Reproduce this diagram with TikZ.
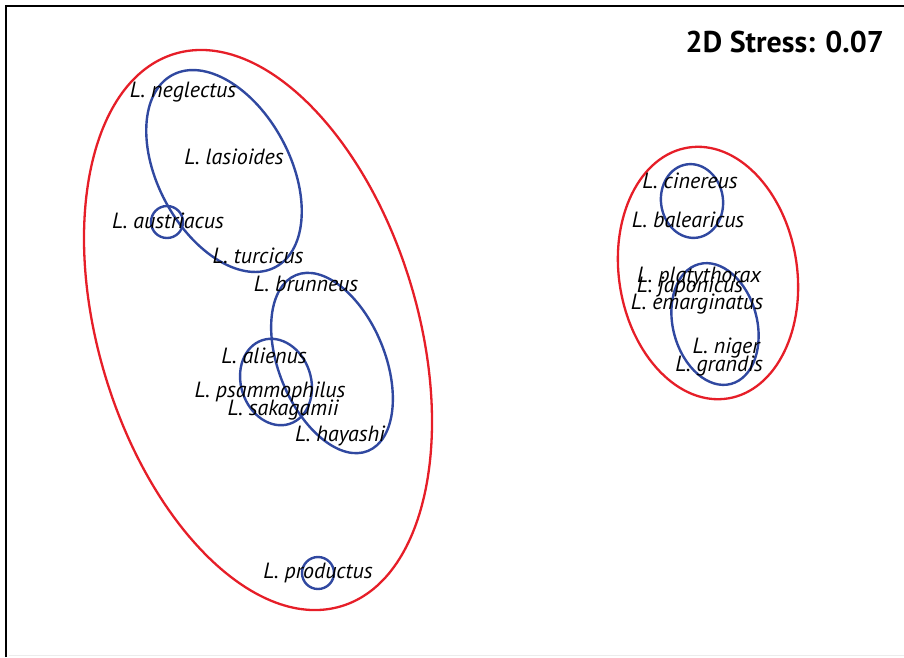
\documentclass[tikz,border=0pt]{standalone}
\usepackage{fontspec}
\setmainfont{PT Sans}
\begin{document}
\begin{tikzpicture}[x=1pt,y=-1pt]
\definecolor{grpred}{RGB}{230,30,40}
\definecolor{grpblue}{RGB}{48,72,160}
\tikzset{
  redgrp/.style={draw=grpred,line width=2.3pt},
  bluegrp/.style={draw=grpblue,line width=2.4pt},
  sp/.style={inner sep=0pt,font=\fontsize{22}{22}\selectfont\itshape},
}
\useasboundingbox (0,0) rectangle (904,657);
% frame
\draw[line width=2.6pt] (6,657) -- (6,6) -- (904,6);
\draw[gray!15,line width=0.8pt] (9,655.5) -- (904,655.5);
% red groups
\draw[redgrp,rotate around={16.8:(258,330)}] (258,330) ellipse (159.5 and 288.5);
\draw[redgrp,rotate around={9:(708,273)}] (708,273) ellipse (89 and 127);
% blue groups
\draw[bluegrp,rotate around={28.3:(224,171)}] (224,171) ellipse (66 and 109);
\draw[bluegrp] (167,222) circle (16);
\draw[bluegrp,rotate around={22.3:(332,363)}] (332,363) ellipse (53 and 95);
\draw[bluegrp,rotate around={18:(276,382)}] (276,382) ellipse (35 and 44);
\draw[bluegrp] (318,573) circle (16);
\draw[bluegrp,rotate around={8:(692,201)}] (692,201) ellipse (31 and 37);
\draw[bluegrp,rotate around={15:(715,324)}] (715,324) ellipse (42 and 62);
% labels
\node[sp] (neg) at (183,92) {L. neglectus};
\node[sp] (las) at (234,157) {L. lasioides};
\node[sp] (aus) at (168,221) {L. austriacus};
\node[sp] (tur) at (258,256) {L. turcicus};
\node[sp] (bru) at (306,284) {L. brunneus};
\node[sp] (ali) at (264,356) {L. alienus};
\node[sp] (psa) at (270,392) {L. psammophilus};
\node[sp] (sak) at (283,410) {L. sakagamii};
\node[sp] (hay) at (340,436) {L. hayashi};
\node[sp] (pro) at (318,573) {L. productus};
\node[sp] (cin) at (690,181) {L. cinereus};
\node[sp] (bal) at (688,220) {L. balearicus};
\node[sp] (pla) at (699,277) {L. platythorax};
\node[sp] (jap) at (690,287) {L. japonicus};
\node[sp] (ema) at (697,304) {L. emarginatus};
\node[sp] (nig) at (726,348) {L. niger};
\node[sp] (gra) at (719,366) {L. grandis};
\node[inner sep=0pt,anchor=east,font=\fontsize{30}{30}\selectfont\bfseries] (stress) at (884,42) {2D Stress: 0.07};
\end{tikzpicture}
\end{document}
